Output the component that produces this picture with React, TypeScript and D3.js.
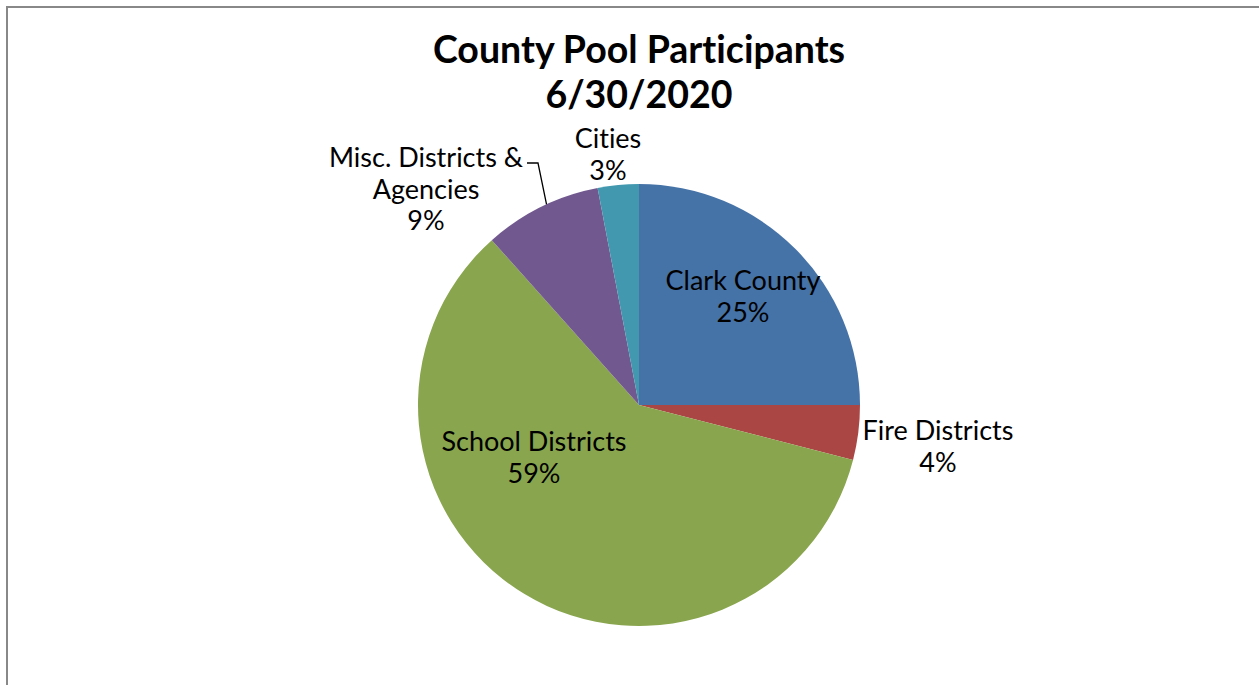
import React from "react";
import * as d3 from "d3";

const categories = ["Clark County", "Fire Districts", "School Districts", "Misc. Districts & Agencies", "Cities"];
const values = [25.0, 4.0, 59.4, 8.6, 3.0];
const colors = ["#4572A7", "#AA4643", "#89A54E", "#71588F", "#4198AF"];

// label layout (pixel positions of label centers, first-line center y)
const labelLines: string[][] = [
  ["Clark County", "25%"],
  ["Fire Districts", "4%"],
  ["School Districts", "59%"],
  ["Misc. Districts &", "Agencies", "9%"],
  ["Cities", "3%"],
];
const labelPos: [number, number][] = [
  [743, 280],
  [938, 430],
  [534, 441],
  [426, 157],
  [608, 138],
];

const W = 1259, H = 685;
const cx = 639, cy = 405, R = 221;

export default function App() {
  const pie = d3.pie<number>().sort(null).value((d) => d);
  const arcs = pie(values);
  const arc = d3.arc<d3.PieArcDatum<number>>().innerRadius(0).outerRadius(R);
  const misc = arcs[3];
  const miscAngle = misc.startAngle + (misc.endAngle - misc.startAngle) * 0.55;
  const ex = cx + R * Math.sin(miscAngle);
  const ey = cy - R * Math.cos(miscAngle);
  const font = "Lato, 'Open Sans', sans-serif";
  const noLig = { fontVariantLigatures: "none", fontFeatureSettings: "'liga' 0, 'clig' 0" } as React.CSSProperties;
  return (
    <svg width={W} height={H} style={{ position: "absolute", left: 0, top: 0 }}>
      <rect x={0} y={0} width={W} height={H} fill="#fff" />
      <path d={`M7,${H + 5} L7,7 L${W + 5},7`} fill="none" stroke="#888" strokeWidth={2} />
      <text x={639} y={63} textAnchor="middle" fontFamily={font} fontWeight="bold" fontSize={37.5} fill="#000" style={noLig}>
        County Pool Participants
      </text>
      <text x={639} y={108} textAnchor="middle" fontFamily={font} fontWeight="bold" fontSize={37.5} fill="#000" style={noLig}>
        6/30/2020
      </text>
      <g transform={`translate(${cx},${cy})`}>
        {arcs.map((a, i) => (
          <path key={categories[i]} d={arc(a) || ""} fill={colors[i]} />
        ))}
      </g>
      <path d={`M527,163 L538,163 L${ex},${ey}`} fill="none" stroke="#000" strokeWidth={1.3} />
      {labelLines.map((lines, i) => (
        <text key={i} fontFamily={font} fontSize={27} textAnchor="middle" fill="#000" style={noLig}>
          {lines.map((l, j) => (
            <tspan key={j} x={labelPos[i][0]} y={labelPos[i][1] + 10 + j * 31.5}>
              {l}
            </tspan>
          ))}
        </text>
      ))}
    </svg>
  );
}
